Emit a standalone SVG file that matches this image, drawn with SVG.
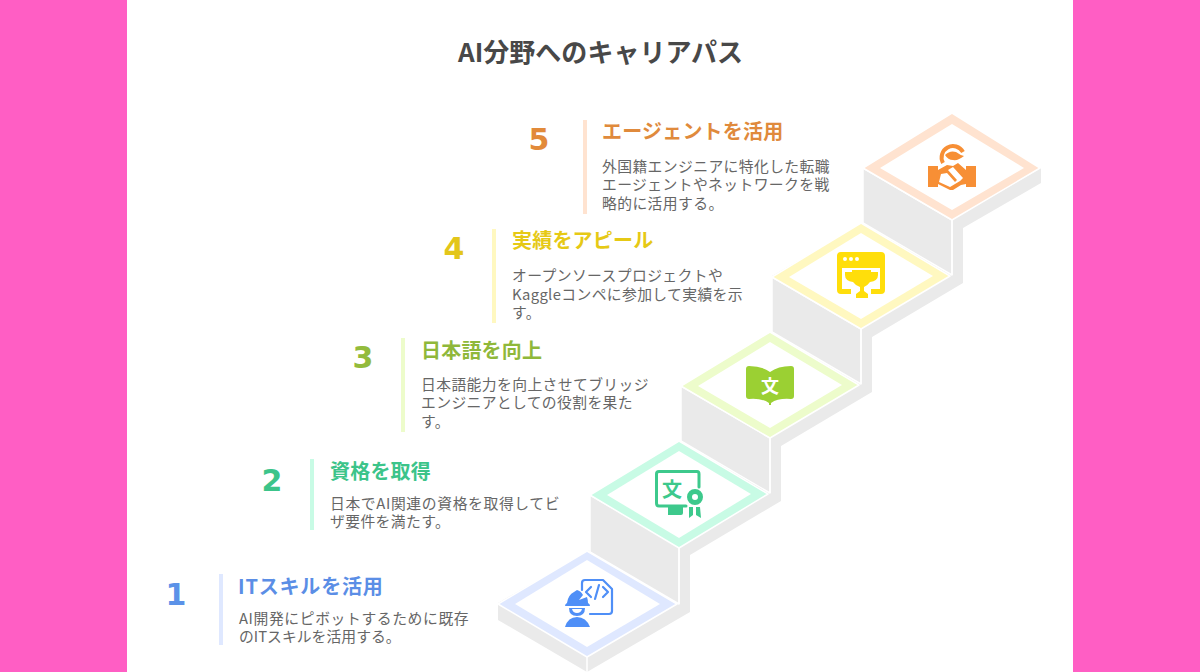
<svg xmlns="http://www.w3.org/2000/svg" width="1200" height="672" viewBox="0 0 1200 672">
<style>
text{font-family:"Noto Sans CJK JP","Noto Sans",sans-serif}
.title{font-size:26px;font-weight:700;fill:#484848}
.num{font-family:"DejaVu Sans","Noto Sans CJK JP",sans-serif;font-size:30px;font-weight:700;text-anchor:middle}
.head{font-size:20px;font-weight:700;letter-spacing:.2px}
.body{font-size:14.8px;fill:#666;letter-spacing:.4px}
.wall{fill:#eaeaea;stroke:#fff;stroke-width:1.5;stroke-linejoin:round}
.top{stroke:#fff;stroke-width:1.5;stroke-linejoin:round}
.in{fill:#fff}
</style>
<rect width="1200" height="672" fill="#ff5ec4"/>
<rect x="127" width="946" height="672" fill="#fff"/>
<text class="title" x="458" y="62" textLength="285">AI分野へのキャリアパス</text>
<g id="connectors">
<path class="wall" style="stroke:none" d="M498 603V620L587 672L690 612V555L781 501V446L872 392V337L963 283V228L1041 183V168L952 220L863 168V223L772 276V332L681 386V441L590 495V550L498 603Z"/>
<path class="wall" d="M863 168L952 220V275L863 223Z"/>
<path class="wall" d="M772 277L861 329V384L772 332Z"/>
<path class="wall" d="M681 386L770 438V493L681 441Z"/>
<path class="wall" d="M590 495L679 547V604L590 552Z"/>
<path d="M952 220V275M861 329V384M770 438V493M679 547V604M587 657V672" fill="none" stroke="#fff" stroke-width="1.5"/>
</g>
<g id="step1">
<path class="top" fill="#dfe8ff" d="M587 551L677 604L587 657L498 604Z"/>
<path class="in" d="M587 560L660 604L587 647L515 604Z"/>
<g fill="none" stroke="#4f8ff7" stroke-width="2.200" stroke-linecap="round" stroke-linejoin="round">
<path d="M582 590V583Q582 580 585 580H603L612 589V611Q612 614 609 614H590"/>
<path d="M591 587L586 592L591 597M603 587L608 592L603 597M599 585L595 599"/>
</g>
<g fill="#4f8ff7">
<path d="M565 606Q565 604 567 603Q568 595 574 592L577 590Q581 591 583 595L579 600L587 597Q588 600 588 603Q590 604 590 606Z"/>
<path fill-rule="evenodd" d="M569 608H585Q585 616 577 616Q569 616 569 608ZM572 609Q573 613 577 613Q581 613 582 609Z"/>
<path d="M565 627Q568 617 577 617Q586 617 590 627Z"/>
</g>
<text class="num" x="176" y="605" fill="#5b92e8">1</text>
<rect x="219" y="574" width="4" height="71" fill="#dfe8ff"/>
<text class="head" x="238" y="594" fill="#5b8ee6" textLength="145">ITスキルを活用</text>
<text class="body" x="239" y="624" textLength="230">AI開発にピボットするために既存</text>
<text class="body" x="239" y="642" textLength="162">のITスキルを活用する。</text>
</g>
<g id="step2">
<path class="top" fill="#c8fbe5" d="M679 441L768 494L679 548L590 495Z"/>
<path class="in" d="M679 451L751 494L679 538L607 495Z"/>
<path fill="none" stroke="#3dc98c" stroke-width="3" stroke-linejoin="round" stroke-linecap="round" d="M686 506H659Q656.500 506 656.500 503V474Q656.500 471.500 659 471.500H697Q699 471.500 699 474V487"/>
<g fill="#3dc98c">
<path d="M668 506H683V513Q683 515 681 515H668Z"/>
<path fill-rule="evenodd" d="M695 489A8 8 0 1 0 695 505A8 8 0 1 0 695 489ZM695 494A3 3 0 1 1 695 500A3 3 0 1 1 695 494Z"/>
<path d="M689 507H693V515L689 518ZM696 507H700L701 518L696 515Z"/>
</g>
<text x="672" y="497" font-size="20" font-weight="700" fill="#3dc98c" text-anchor="middle">文</text>
<text class="num" x="272" y="491" fill="#3cc48a">2</text>
<rect x="310" y="459" width="4" height="71" fill="#c8fbe5"/>
<text class="head" x="330" y="479" fill="#3cc48a">資格を取得</text>
<text class="body" x="330" y="509" textLength="230">日本でAI関連の資格を取得してビ</text>
<text class="body" x="330" y="527">ザ要件を満たす。</text>
</g>
<g id="step3">
<path class="top" fill="#edfccb" d="M770 332L859 385L770 438L681 386Z"/>
<path class="in" d="M770 342L842 385L770 428L698 386Z"/>
<path fill="#9bd033" d="M746 369Q746 366 749 366Q762 366 770 372Q778 366 791 366Q794 366 794 369V396Q794 399 791 399Q778 398 771 403V405H769V403Q762 398 749 399Q746 399 746 396Z"/>
<text x="770" y="393" font-size="18" font-weight="700" fill="#fff" text-anchor="middle">文</text>
<text class="num" x="363" y="368" fill="#93bb3c">3</text>
<rect x="401" y="338" width="4" height="94" fill="#edfccb"/>
<text class="head" x="421" y="358" fill="#8fb83a">日本語を向上</text>
<text class="body" x="421" y="390">日本語能力を向上させてブリッジ</text>
<text class="body" x="421" y="408">エンジニアとしての役割を果た</text>
<text class="body" x="421" y="427">す。</text>
</g>
<g id="step4">
<path class="top" fill="#fff8c0" d="M861 223L950 276L861 329L772 277Z"/>
<path class="in" d="M861 233L933 276L861 319L789 277Z"/>
<path fill="#ffde0b" fill-rule="evenodd" d="M841 252H881Q885 252 885 256V290Q885 294 881 294H871V289H880V268H842V289H851V294H841Q837 294 837 290V256Q837 252 841 252ZM845 257A2 2 0 1 0 845 261A2 2 0 1 0 845 257ZM851 257A2 2 0 1 0 851 261A2 2 0 1 0 851 257ZM857 257A2 2 0 1 0 857 261A2 2 0 1 0 857 257Z"/>
<path fill="#ffde0b" d="M852 270H871V272H878V275Q878 281 870 282Q868 285 864 287V291L868 294V298H856V294L860 291V287Q855 285 853 282Q845 281 845 275V272H852Z"/>
<text class="num" x="454" y="259" fill="#e3c61a">4</text>
<rect x="492" y="229" width="4" height="94" fill="#fff8c0"/>
<text class="head" x="512" y="248" fill="#e6c915">実績をアピール</text>
<text class="body" x="512" y="281">オープンソースプロジェクトや</text>
<text class="body" x="512" y="300" textLength="231">Kaggleコンペに参加して実績を示</text>
<text class="body" x="512" y="318">す。</text>
</g>
<g id="step5">
<path class="top" fill="#ffe3d0" d="M952 113L1040 168L952 220L863 168Z"/>
<path class="in" d="M952 124L1024 168L952 210L880 168Z"/>
<g fill="#f78f35">
<path fill="none" stroke="#f78f35" stroke-width="4" d="M943 163A11 11 0 1 1 963 152"/>
<path d="M945 155Q950 150 956 152Q960 155 964 156Q958 161 953 160Q948 160 945 155Z"/>
<path d="M928 166H938V187H928ZM966 166H976V187H966Z"/>
<path fill-rule="evenodd" d="M938 170L947 165L953 166L958 163L966 170V184L961 185L953 190H950L938 184ZM941 174L939 182L950 187L960 181L963 178L953 167L948 170L957 180L955 182L947 173Z"/>
</g>
<text class="num" x="539" y="150" fill="#e28a3a">5</text>
<rect x="583" y="120" width="4" height="94" fill="#ffe3d0"/>
<text class="head" x="602" y="139" fill="#e08a3c">エージェントを活用</text>
<text class="body" x="602" y="172">外国籍エンジニアに特化した転職</text>
<text class="body" x="602" y="190">エージェントやネットワークを戦</text>
<text class="body" x="602" y="209">略的に活用する。</text>
</g>
</svg>
